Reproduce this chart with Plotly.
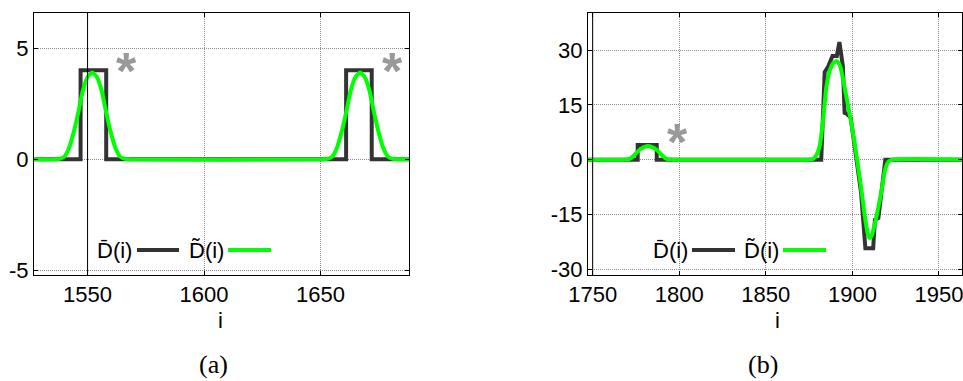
import plotly.graph_objects as go

# ---------------- data ----------------
# panel (a)
a_bar_i = [1527, 1547, 1547, 1558, 1558, 1661, 1661, 1672, 1672, 1688]
a_bar_v = [0, 0, 4, 4, 0, 0, 4, 4, 0, 0]

a_tilde_i = [1527, 1536, 1538, 1540, 1542, 1544, 1546, 1548, 1550, 1552, 1554, 1556, 1558,
             1560, 1562, 1564, 1566, 1568,
             1651, 1653, 1655, 1657, 1659, 1661, 1663, 1665, 1667, 1669, 1671, 1673,
             1675, 1677, 1679, 1681, 1683, 1688]
a_tilde_v = [0, 0, 0.02, 0.12, 0.5, 1.2, 2.1, 3.1, 3.7, 3.9, 3.7, 3.1, 2.1,
             1.2, 0.5, 0.12, 0.02, 0,
             0, 0.02, 0.12, 0.5, 1.2, 2.1, 3.1, 3.7, 3.9, 3.7, 3.1, 2.1,
             1.2, 0.5, 0.12, 0.02, 0, 0]

# panel (b)
b_bar_i = [1747, 1776, 1776, 1787, 1787, 1882, 1884, 1886, 1888.5, 1891, 1892.5, 1894.5,
           1895.5, 1897, 1899, 1902, 1905, 1907.5, 1912, 1913, 1915, 1919, 1964]
b_bar_v = [0, 0, 4, 4, 0, 0, 24, 25.5, 28.4, 28.4, 32.2, 25.6,
           12.8, 12.5, 11.5, 2, -9, -24.3, -24.3, -16.5, -16, 0, 0]

b_tilde_i = [1747, 1768, 1770, 1772, 1774, 1776, 1778, 1780, 1782, 1784, 1786, 1788, 1790,
             1792, 1794, 1796,
             1875, 1877, 1879, 1881, 1883, 1885, 1887, 1889, 1891, 1893, 1895, 1897,
             1899, 1901, 1903, 1905, 1907, 1909, 1910, 1911, 1913, 1915, 1917, 1919,
             1921, 1923, 1964]
b_tilde_v = [0, 0, 0.05, 0.4, 1.2, 2.2, 3.0, 3.5, 3.7, 3.5, 3.0, 2.2, 1.2,
             0.4, 0.05, 0,
             0, 0.1, 1, 3.5, 10.5, 20, 24.5, 26.5, 27, 25.5, 21, 16,
             11, 5.5, -1, -7.5, -15, -20.5, -21.5, -21, -17.5, -13, -8, -2.5,
             -0.5, 0, 0]

a_xticks = [1550, 1600, 1650]
a_yticks = [-5, 0, 5]
a_ytext = ["-5", "0", "5"]
b_xticks = [1750, 1800, 1850, 1900, 1950]
b_yticks = [-30, -15, 0, 15, 30]
b_ytext = ["-30", "-15", "0", "15", "30"]

# asterisk markers (data coordinates)
a_star_i = [1566.7, 1680.7]
a_star_v = [4.38, 4.38]
b_star_i = [1798.8]
b_star_v = [7.3]

# ---------------- style ----------------
W, H = 963, 381
FONT = "Liberation Sans"
SERIF = "Liberation Serif"
DARK = "#333333"
GREEN = "#00ff00"
STAR = "#999999"

fig = go.Figure()
fig.add_trace(go.Scatter(x=a_bar_i, y=a_bar_v, mode="lines", xaxis="x", yaxis="y",
                         line=dict(color=DARK, width=4), showlegend=False))
fig.add_trace(go.Scatter(x=a_tilde_i, y=a_tilde_v, mode="lines", xaxis="x", yaxis="y",
                         line=dict(color=GREEN, width=4, shape="spline", smoothing=0.6),
                         showlegend=False))
fig.add_trace(go.Scatter(x=b_bar_i, y=b_bar_v, mode="lines", xaxis="x2", yaxis="y2",
                         line=dict(color=DARK, width=4), showlegend=False))
fig.add_trace(go.Scatter(x=b_tilde_i, y=b_tilde_v, mode="lines", xaxis="x2", yaxis="y2",
                         line=dict(color=GREEN, width=4, shape="spline", smoothing=0.6),
                         showlegend=False))


def px(x):
    return x / W


def py(y):
    return 1 - y / H


ydom = [py(275), py(12.5)]
axis_common = dict(showline=True, linecolor="black", linewidth=1, mirror="ticks",
                   ticks="inside", ticklen=4, tickcolor="black",
                   showgrid=True, gridcolor="#8c8c8c", griddash="1px,1px", gridwidth=1,
                   zeroline=False, tickfont=dict(family=FONT, size=22, color="black"),
                   automargin=False, ticklabeloverflow="allow")

fig.update_layout(
    width=W, height=H, margin=dict(l=0, r=0, t=0, b=0),
    font=dict(family=FONT, size=20, color="black"),
    paper_bgcolor="white", plot_bgcolor="white", showlegend=False,
    xaxis=dict(domain=[px(34), px(409)], range=[1527, 1688], tickvals=a_xticks,
               anchor="y", **axis_common),
    yaxis=dict(domain=ydom, range=[-5.2, 6.6], tickvals=a_yticks, ticktext=a_ytext,
               anchor="x", **axis_common),
    xaxis2=dict(domain=[px(588), px(962)], range=[1747.3, 1963.3], tickvals=b_xticks,
                anchor="y2", **axis_common),
    yaxis2=dict(domain=ydom, range=[-31.6, 40.3], tickvals=b_yticks, ticktext=b_ytext,
                anchor="x2", **axis_common),
)

# solid vertical reference lines
fig.add_shape(type="line", xref="x", yref="y domain", x0=1550, x1=1550, y0=0, y1=1,
              line=dict(color="black", width=1))
fig.add_shape(type="line", xref="x2", yref="y2 domain", x0=1750, x1=1750, y0=0, y1=1,
              line=dict(color="black", width=1))

# asterisks
for xs, ys, xr, yr in [(a_star_i, a_star_v, "x", "y"), (b_star_i, b_star_v, "x2", "y2")]:
    for xv, yv in zip(xs, ys):
        fig.add_annotation(x=xv, y=yv, xref=xr, yref=yr, text="<b>*</b>", showarrow=False,
                           xanchor="center", yanchor="middle",
                           font=dict(family=FONT, size=52, color=STAR), yshift=-9)


# custom legends (text then line sample)
def legend(x_text1, x_l1a, x_l1b, x_text2, x_l2a, x_l2b, yc):
    fig.add_annotation(x=px(x_text1), y=py(yc), xref="paper", yref="paper", xanchor="left",
                       yanchor="middle", text="D\u0304(i)", showarrow=False,
                       font=dict(family=FONT, size=22, color="black"))
    fig.add_shape(type="line", xref="paper", yref="paper", x0=px(x_l1a), x1=px(x_l1b),
                  y0=py(yc), y1=py(yc), line=dict(color=DARK, width=4))
    fig.add_annotation(x=px(x_text2), y=py(yc), xref="paper", yref="paper", xanchor="left",
                       yanchor="middle", text="D\u0303(i)", showarrow=False,
                       font=dict(family=FONT, size=22, color="black"))
    fig.add_shape(type="line", xref="paper", yref="paper", x0=px(x_l2a), x1=px(x_l2b),
                  y0=py(yc), y1=py(yc), line=dict(color=GREEN, width=4))


legend(95, 137, 179, 187, 228, 271, 250)
legend(651, 692, 735, 742, 783, 826, 250)

# axis titles and panel labels
for xc, lab in [(220, "i"), (777, "i")]:
    fig.add_annotation(x=px(xc), y=py(320), xref="paper", yref="paper", text=lab,
                       xanchor="center", yanchor="middle",
                       showarrow=False, font=dict(family=FONT, size=22, color="black"))
for xc, lab in [(213, "(a)"), (763, "(b)")]:
    fig.add_annotation(x=px(xc), y=py(364), xref="paper", yref="paper", text=lab,
                       xanchor="center", yanchor="middle",
                       showarrow=False, font=dict(family=SERIF, size=26, color="black"))

fig.write_html("out.html", config={"displayModeBar": False},
               post_script="document.body.style.margin='0';"
                           "document.body.style.overflow='hidden';")
